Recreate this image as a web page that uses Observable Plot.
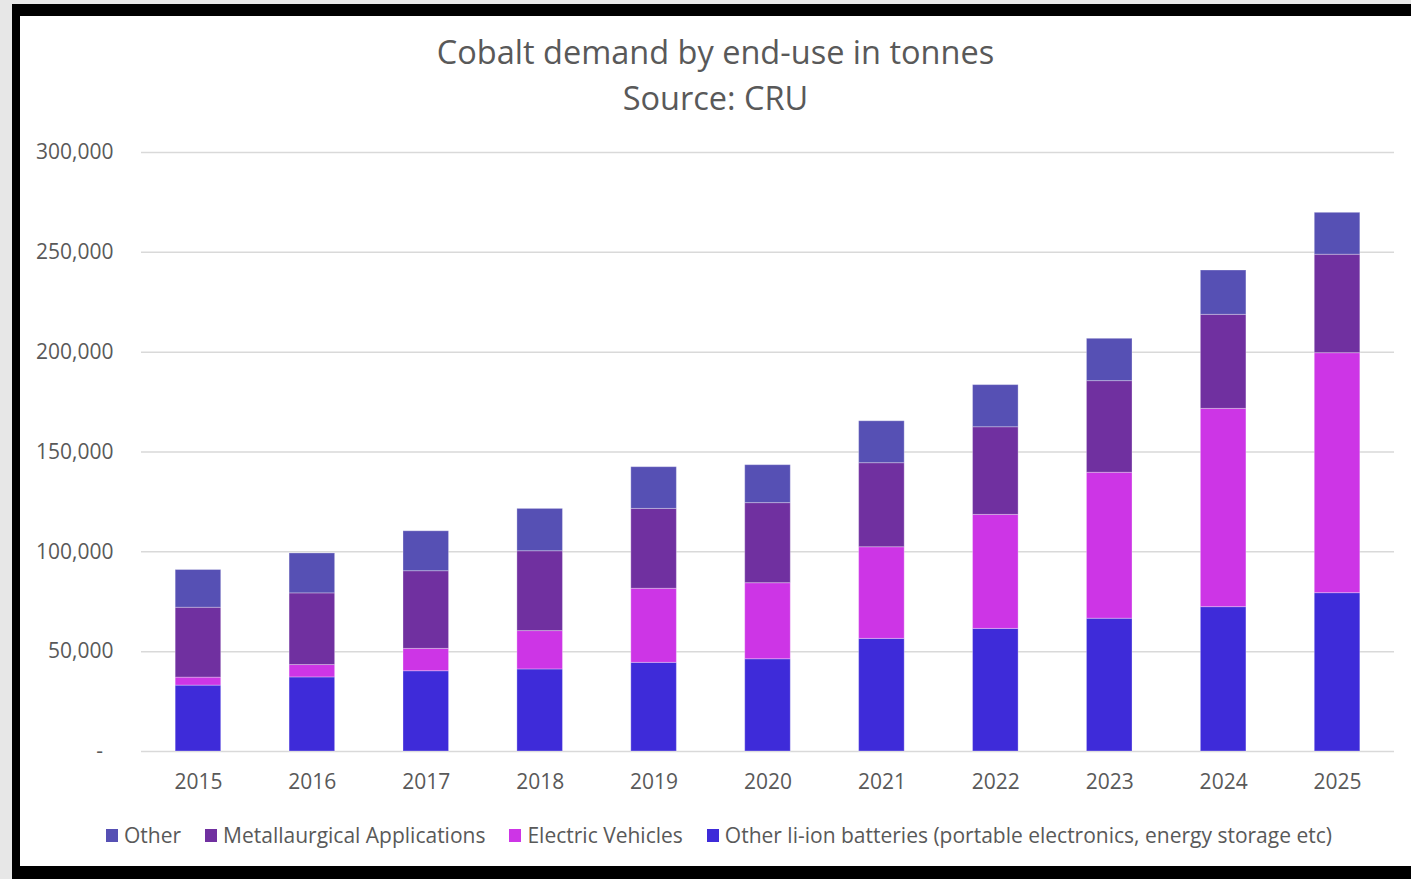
<!DOCTYPE html>
<html>
<head>
<meta charset="utf-8">
<script src="https://cdn.jsdelivr.net/npm/d3@7"></script>
<script src="https://cdn.jsdelivr.net/npm/@observablehq/plot@0.6"></script>
<style>
html, body { margin: 0; padding: 0; width: 1411px; height: 879px; overflow: hidden; background: #e7e7e7; font-family: "Open Sans", sans-serif; }
#frame { position: absolute; left: 12px; top: 4px; width: 1399px; height: 875px; background: #000; }
#white { position: absolute; left: 20px; top: 16px; width: 1391px; height: 850px; background: #fff; }
.title { position: absolute; left: 0; width: 1391px; text-align: center; color: #595959; font-size: 32.5px; line-height: 32.5px; white-space: nowrap; }
#chart { position: absolute; left: 0; top: 114px; }
#legend { position: absolute; left: 86px; top: 807px; height: 24px; display: flex; align-items: center; color: #595959; font-size: 21px; line-height: 24px; white-space: nowrap; }
.item { display: flex; align-items: center; margin-right: 24px; }
.sw { display: inline-block; width: 12px; height: 13px; margin-right: 6px; }
</style>
</head>
<body>
<div id="frame"></div>
<div id="white">
  <div class="title" id="t1" style="top:20px;">Cobalt demand by end-use in tonnes</div>
  <div class="title" id="t2" style="top:66px;">Source: CRU</div>
  <div id="chart"></div>
  <div id="legend"></div>
</div>
<script>
const years = ["2015","2016","2017","2018","2019","2020","2021","2022","2023","2024","2025"];
const liion = [33000, 37100, 40200, 41100, 44400, 46200, 56400, 61400, 66500, 72300, 79300];
const ev    = [4000, 6200, 11200, 19200, 37100, 38100, 45900, 57100, 73100, 99300, 120200];
const met   = [35000, 35900, 38900, 40000, 40000, 40100, 42100, 43900, 45900, 47100, 49300];
const other = [18900, 20000, 20000, 21200, 20900, 19000, 21000, 21100, 21200, 22200, 21000];
const yTicks = [0, 50000, 100000, 150000, 200000, 250000, 300000];

const legendNames = ["Other", "Metallaurgical Applications", "Electric Vehicles", "Other li-ion batteries (portable electronics, energy storage etc)"];
const legendColors = ["#5650B4", "#7030A0", "#CD35E6", "#3E2BD9"];
const stackOrder = [legendNames[3], legendNames[2], legendNames[1], legendNames[0]];

const rows = [];
years.forEach((yr, i) => {
  rows.push({year: yr, series: legendNames[3], value: liion[i]});
  rows.push({year: yr, series: legendNames[2], value: ev[i]});
  rows.push({year: yr, series: legendNames[1], value: met[i]});
  rows.push({year: yr, series: legendNames[0], value: other[i]});
});

const chart = Plot.plot({
  width: 1391,
  height: 680,
  marginLeft: 121,
  marginRight: 17,
  marginTop: 22,
  marginBottom: 59,
  style: { fontFamily: "Open Sans, sans-serif", fontSize: "21px", color: "#595959", background: "transparent", overflow: "visible" },
  x: { type: "band", domain: years, paddingInner: 0.6, paddingOuter: 0.3, round: false, label: null, tickSize: 0, tickPadding: 23 },
  y: { domain: [0, 300000], ticks: yTicks, tickSize: 0, tickPadding: 28, label: null,
       tickFormat: d => d === 0 ? "-\u2002" : d3.format(",")(d) },
  color: { domain: legendNames, range: legendColors },
  marks: [
    Plot.ruleY(yTicks, { stroke: "#d9d9d9", strokeWidth: 1.5 }),
    Plot.barY(rows, { x: "year", y: "value", fill: "series", order: stackOrder, stroke: "#ffffff", strokeOpacity: 0.3, strokeWidth: 1 })
  ]
});
document.getElementById("chart").appendChild(chart);

const legend = document.getElementById("legend");
legendNames.forEach((name, i) => {
  const item = document.createElement("div");
  item.className = "item";
  const sw = document.createElement("span");
  sw.className = "sw";
  sw.style.background = legendColors[i];
  const label = document.createElement("span");
  label.textContent = name;
  item.appendChild(sw);
  item.appendChild(label);
  legend.appendChild(item);
});
</script>
</body>
</html>
